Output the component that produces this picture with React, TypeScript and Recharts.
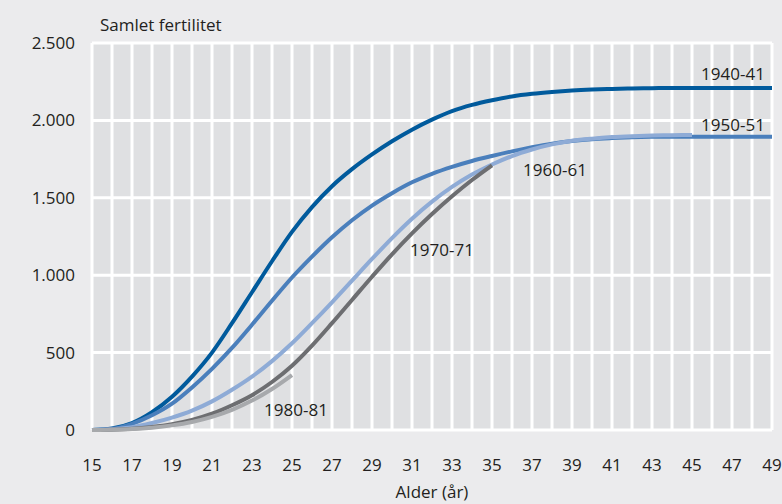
import { LineChart, Line, CartesianGrid, XAxis, YAxis, ReferenceDot } from 'recharts'

const ages = [15, 16, 17, 18, 19, 20, 21, 22, 23, 24, 25, 26, 27, 28, 29, 30, 31, 32, 33, 34, 35, 36, 37, 38, 39, 40, 41, 42, 43, 44, 45, 46, 47, 48, 49]
const xTicks = [15, 17, 19, 21, 23, 25, 27, 29, 31, 33, 35, 37, 39, 41, 43, 45, 47, 49]
const yTicks = [0, 500, 1000, 1500, 2000, 2500]

// kumulert fruktbarhet per kohort
const k1940 = [0, 10, 45, 115, 215, 345, 500, 690, 890, 1090, 1280, 1440, 1575, 1685, 1780, 1865, 1940, 2005, 2060, 2100, 2130, 2155, 2172, 2184, 2193, 2199, 2203, 2206, 2208, 2210, 2210, 2210, 2210, 2210, 2210]
const k1950 = [0, 8, 40, 95, 170, 275, 395, 530, 680, 835, 985, 1120, 1245, 1355, 1450, 1530, 1600, 1655, 1700, 1738, 1770, 1800, 1827, 1850, 1867, 1879, 1886, 1891, 1894, 1895, 1895, 1895, 1895, 1895, 1895]
const k1960 = [0, 5, 18, 45, 80, 125, 185, 260, 345, 445, 560, 690, 825, 965, 1105, 1240, 1365, 1475, 1570, 1650, 1715, 1770, 1812, 1845, 1868, 1882, 1892, 1898, 1902, 1904, 1906]
const k1970 = [0, 2, 8, 20, 38, 65, 105, 160, 225, 310, 415, 545, 690, 840, 990, 1135, 1270, 1395, 1510, 1615, 1710]
const k1980 = [0, 2, 6, 15, 30, 52, 85, 130, 190, 265, 355]

const seriesNames = ['1940-41', '1950-51', '1960-61', '1970-71', '1980-81']
const seriesValues = [k1940, k1950, k1960, k1970, k1980]
const seriesColors = ['#005a9c', '#4a7fbc', '#8eabd6', '#6d6e71', '#a7a9ac']

// etikettposisjoner (alder, verdi)
const labelAges = [47.05, 47.05, 38.15, 32.5, 25.2]
const labelValues = [2303, 1968, 1677, 1161, 129]

const data = ages.map((age, i) => {
  const row: Record<string, number | undefined> = { age }
  seriesNames.forEach((name, s) => {
    row[name] = seriesValues[s][i]
  })
  return row
})

const font = '"Open Sans", sans-serif'
const textColor = '#231f20'

const fmt = (v: number) => v.toLocaleString('de-DE')

export default function App () {
  return (
    <div style={{ position: 'absolute', left: 0, top: 0, width: 782, height: 504, background: '#ebebed', fontFamily: font }}>
      <div style={{ position: 'absolute', left: 100, top: 14, fontSize: 17, lineHeight: '22px', color: textColor }}>
        Samlet fertilitet
      </div>
      <LineChart
        width={782}
        height={504}
        data={data}
        margin={{ top: 43, right: 10, bottom: 0, left: 0 }}
      >
        <CartesianGrid
          fill='#dfe0e2'
          stroke='#ffffff'
          strokeWidth={3}
          verticalValues={ages}
          horizontalValues={yTicks}
        />
        <XAxis
          dataKey='age'
          type='number'
          domain={[15, 49]}
          ticks={xTicks}
          interval={0}
          height={74}
          axisLine={false}
          tickLine={false}
          tickMargin={23}
          tick={{ fill: textColor, fontSize: 17, fontFamily: font }}
        />
        <YAxis
          type='number'
          domain={[0, 2500]}
          ticks={yTicks}
          width={92}
          axisLine={false}
          tickLine={false}
          tickMargin={11}
          tickFormatter={fmt}
          tick={{ fill: textColor, fontSize: 17, fontFamily: font }}
        />
        {seriesNames.map((name, s) => (
          <Line
            key={name}
            type='monotone'
            dataKey={name}
            stroke={seriesColors[s]}
            strokeWidth={4}
            dot={false}
            activeDot={false}
            isAnimationActive={false}
          />
        ))}
        {seriesNames.map((name, s) => (
          <ReferenceDot
            key={'lbl' + name}
            x={labelAges[s]}
            y={labelValues[s]}
            r={0}
            fill='none'
            stroke='none'
            label={{ value: name, position: 'center', fill: textColor, fontSize: 17, fontFamily: font }}
          />
        ))}
      </LineChart>
      <div style={{ position: 'absolute', left: 0, width: 864, top: 481, textAlign: 'center', fontSize: 17, lineHeight: '22px', color: textColor }}>
        Alder (år)
      </div>
    </div>
  )
}
